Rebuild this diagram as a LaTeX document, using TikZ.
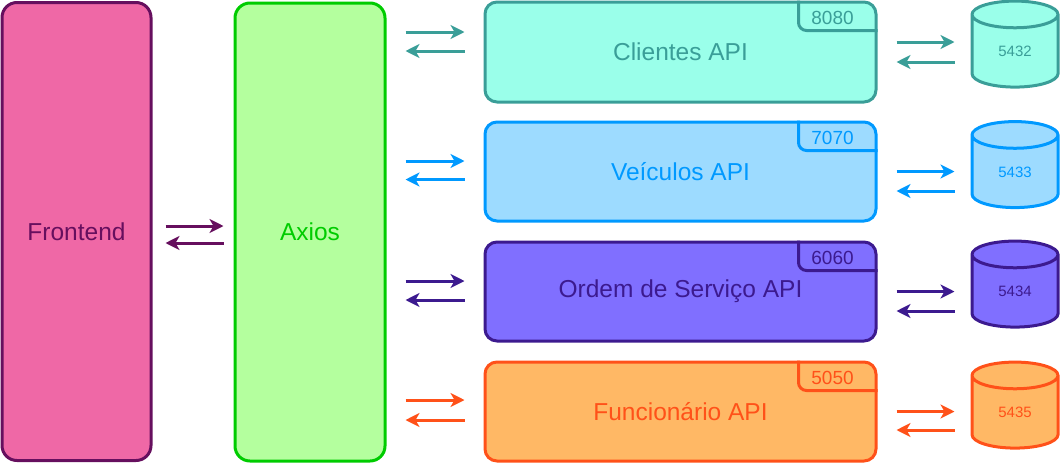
\documentclass[tikz,border=0pt]{standalone}
\usepackage{fontspec}
\setmainfont{Liberation Sans}
\usetikzlibrary{arrows.meta, shapes.geometric, calc}

\definecolor{feFill}{HTML}{EF68A6}
\definecolor{feLine}{HTML}{660F5E}
\definecolor{axFill}{HTML}{B4FF9E}
\definecolor{axLine}{HTML}{00CC00}
\definecolor{cliFill}{HTML}{9AFFEA}
\definecolor{cliLine}{HTML}{3A9E98}
\definecolor{veiFill}{HTML}{9DDBFF}
\definecolor{veiLine}{HTML}{0099FF}
\definecolor{ordFill}{HTML}{806FFF}
\definecolor{ordLine}{HTML}{3C1A8F}
\definecolor{funFill}{HTML}{FFB865}
\definecolor{funLine}{HTML}{FF5119}

\begin{document}
\begin{tikzpicture}[x=1pt, y=-1pt,
  block/.style={draw, line width=3pt, rounded corners=15pt, inner sep=0pt,
    minimum width=150pt, minimum height=458pt, font=\fontsize{24.5}{28}\selectfont},
  api/.style={draw, line width=3pt, rounded corners=12pt, inner sep=0pt,
    minimum width=391pt, minimum height=99pt, font=\fontsize{24.5}{28}\selectfont},
  tab/.style={line width=3pt, rounded corners=8pt},
  port/.style={font=\fontsize{19}{22}\selectfont},
  db/.style={draw, line width=3pt, cylinder, shape border rotate=90, aspect=0.8,
    inner sep=0pt, minimum width=86pt, minimum height=86pt,
    font=\fontsize{15}{17}\selectfont},
  link/.style={line width=3pt, -{Stealth[length=14pt, width=14pt, inset=4pt]}}]
\useasboundingbox (0,0) rectangle (1060,464);

% frontend and axios
\node [block, minimum width=149pt, fill=feFill, draw=feLine, text=feLine] (fe) at (76.5,231.5) {Frontend};
\node [block, fill=axFill, draw=axLine, text=axLine] (ax) at (310,232) {Axios};

% apis
\node [api, minimum height=100pt, fill=cliFill, draw=cliLine, text=cliLine] (cli) at (680.5,52) {Clientes API};
\node [api, fill=veiFill, draw=veiLine, text=veiLine] (vei) at (680.5,171.5) {Veículos API};
\node [api, fill=ordFill, draw=ordLine, text=ordLine] (ord) at (680.5,291.5) {Ordem de Serviço API};
\node [api, fill=funFill, draw=funLine, text=funLine] (fun) at (680.5,411.5) {Funcionário API};

% port tabs
\draw [tab, cliLine] ([xshift=-79pt]cli.north east) |- ([yshift=-30pt]cli.north east);
\node [port, text=cliLine] (cliport) at ($(cli.north east)+(-45,17)$) {8080};
\draw [tab, veiLine] ([xshift=-79pt]vei.north east) |- ([yshift=-30pt]vei.north east);
\node [port, text=veiLine] (veiport) at ($(vei.north east)+(-45,17)$) {7070};
\draw [tab, ordLine] ([xshift=-79pt]ord.north east) |- ([yshift=-30pt]ord.north east);
\node [port, text=ordLine] (ordport) at ($(ord.north east)+(-45,17)$) {6060};
\draw [tab, funLine] ([xshift=-79pt]fun.north east) |- ([yshift=-30pt]fun.north east);
\node [port, text=funLine] (funport) at ($(fun.north east)+(-45,17)$) {5050};

% databases
\node [db, fill=cliFill, draw=cliLine, text=cliLine] (clidb) at (1015,51.5) {5432};
\node [db, fill=veiFill, draw=veiLine, text=veiLine] (veidb) at (1015,172) {5433};
\node [db, fill=ordFill, draw=ordLine, text=ordLine] (orddb) at (1015,291.5) {5434};
\node [db, fill=funFill, draw=funLine, text=funLine] (fundb) at (1015,412.5) {5435};

% frontend <-> axios
\draw [link, feLine, shorten <=13pt, shorten >=10pt] ($(fe.east)+(0,-5.5)$) -- ($(fe.east -| ax.west)+(0,-5.5)$);
\draw [link, feLine, shorten <=10pt, shorten >=13pt] ($(fe.east -| ax.west)+(0,11.5)$) -- ($(fe.east)+(0,11.5)$);

% axios <-> apis and apis <-> databases
\foreach \n/\a/\b/\c/\d in {cli/-20/-1/-10/10, vei/-10.5/8/0/19.5, ord/-10.5/8.5/0/19.5, fun/-11.5/8.5/0/18.5} {
  \draw [link, \n Line, shorten <=19pt, shorten >=19pt] ($(\n.west -| ax.east)+(0,\a)$) -- ($(\n.west)+(0,\a)$);
  \draw [link, \n Line, shorten <=19pt, shorten >=19pt] ($(\n.west)+(0,\b)$) -- ($(\n.west -| ax.east)+(0,\b)$);
  \draw [link, \n Line, shorten <=19pt, shorten >=16pt] ($(\n.east)+(0,\c)$) -- ($(\n.east -| \n db.west)+(0,\c)$);
  \draw [link, \n Line, shorten <=16pt, shorten >=19pt] ($(\n.east -| \n db.west)+(0,\d)$) -- ($(\n.east)+(0,\d)$);
}
\end{tikzpicture}
\end{document}
